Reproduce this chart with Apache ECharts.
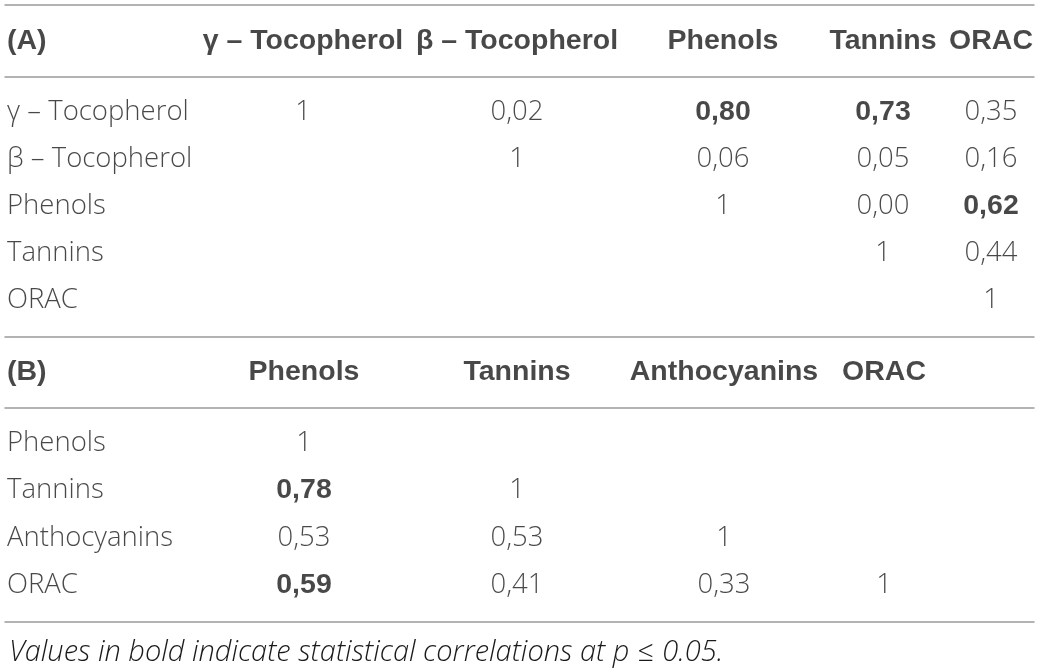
<!DOCTYPE html>
<html>
<head>
<meta charset="utf-8">
<title>Correlations</title>
<script src="https://cdn.jsdelivr.net/npm/echarts@6/dist/echarts.min.js"></script>
<style>html,body{margin:0;background:#fff;}</style>
</head>
<body>
<div id="main" style="width:1040px;height:670px;"></div>
<script type="text/javascript">
    // table (A)
    var titleA = '(A)';
    var colsA = ['γ – Tocopherol', 'β – Tocopherol', 'Phenols', 'Tannins', 'ORAC'];
    var rowsA = ['γ – Tocopherol', 'β – Tocopherol', 'Phenols', 'Tannins', 'ORAC'];
    var valsA = [
        [1, 0.02, 0.80, 0.73, 0.35],
        [null, 1, 0.06, 0.05, 0.16],
        [null, null, 1, 0.00, 0.62],
        [null, null, null, 1, 0.44],
        [null, null, null, null, 1]
    ];
    var boldA = [[0, 2], [0, 3], [2, 4]];   // [row, col] in bold

    // table (B)
    var titleB = '(B)';
    var colsB = ['Phenols', 'Tannins', 'Anthocyanins', 'ORAC'];
    var rowsB = ['Phenols', 'Tannins', 'Anthocyanins', 'ORAC'];
    var valsB = [
        [1],
        [0.78, 1],
        [0.53, 0.53, 1],
        [0.59, 0.41, 0.33, 1]
    ];
    var boldB = [[1, 0], [3, 0]];

    var note = 'Values in bold indicate statistical correlations at p \u2264 0.05.';

    // layout (x axis runs in page pixels, 5..1034)
    var colXA = [303, 517, 723, 883, 991];
    var colXB = [304, 517, 724, 884];
    var labelX = 7;
    var padTop = 0.74, padBottom = 0.77;

    var ink = '#1a1a1a';
    var bodyFont = '"Open Sans", sans-serif';
    var headFont = '"Liberation Sans", Arial, sans-serif';
    var bodySize = 27.5, headSize = 28.5;

    function fmt(v) {
        return v === 1 ? '1' : v.toFixed(2).replace('.', ',');
    }
    function isBold(list, i, j) {
        return list.some(function (p) { return p[0] === i && p[1] === j; });
    }

    function headerData(title, cols, colX) {
        var out = [{value: [labelX, 0], name: title, label: {align: 'left'}}];
        cols.forEach(function (c, j) {
            out.push({value: [colX[j], 0], name: c});
        });
        return out;
    }
    function bodyData(rows, vals, bold, colX) {
        var out = [];
        rows.forEach(function (r, i) {
            out.push({value: [labelX, i], name: r, label: {align: 'left'}});
            vals[i].forEach(function (v, j) {
                if (v === null || v === undefined) return;
                var b = isBold(bold, i, j);
                out.push({
                    value: [colX[j], i],
                    name: fmt(v),
                    label: b ? {fontWeight: 'bold', fontFamily: headFont, fontSize: headSize} : {}
                });
            });
        });
        return out;
    }

    function cellSeries(gi, xi, data, head) {
        return {
            type: 'scatter',
            xAxisIndex: xi,
            yAxisIndex: gi,
            symbolSize: 1,
            itemStyle: {color: 'rgba(0,0,0,0)'},
            silent: true,
            data: data,
            label: {
                show: true,
                position: 'inside',
                formatter: '{b}',
                color: ink,
                fontSize: head ? headSize : bodySize,
                fontFamily: head ? headFont : bodyFont,
                fontWeight: head ? 'bold' : 300,
                verticalAlign: 'middle'
            }
        };
    }

    var ruleX = function (gi, pos) {
        return {
            type: 'value', gridIndex: gi, position: pos, min: 5, max: 1034,
            axisLine: {show: true, onZero: false, lineStyle: {color: '#9b9b9b', width: 1.5}},
            axisTick: {show: false}, axisLabel: {show: false}, splitLine: {show: false}
        };
    };
    var rowY = function (gi, n, header) {
        return {
            type: 'value', gridIndex: gi, inverse: true, show: false,
            min: header ? -0.5 : -padTop,
            max: header ? 0.5 : n - 1 + padBottom
        };
    };

    var myChart = echarts.init(document.getElementById('main'));
    myChart.setOption({
        animation: false,
        backgroundColor: '#fff',
        title: {
            text: note, left: 4, top: 633,
            textStyle: {color: ink, fontSize: 29, fontStyle: 'italic', fontWeight: 300, fontFamily: bodyFont}
        },
        grid: [
            {left: 5, right: 6, top: 5, height: 72},
            {left: 5, right: 6, top: 77, height: 260},
            {left: 5, right: 6, top: 337, height: 71},
            {left: 5, right: 6, top: 408, height: 214}
        ],
        xAxis: [ruleX(0, 'top'), ruleX(1, 'top'), ruleX(2, 'top'), ruleX(3, 'top'), ruleX(3, 'bottom')],
        yAxis: [rowY(0, 1, true), rowY(1, rowsA.length), rowY(2, 1, true), rowY(3, rowsB.length)],
        series: [
            cellSeries(0, 0, headerData(titleA, colsA, colXA), true),
            cellSeries(1, 1, bodyData(rowsA, valsA, boldA, colXA), false),
            cellSeries(2, 2, headerData(titleB, colsB, colXB), true),
            cellSeries(3, 3, bodyData(rowsB, valsB, boldB, colXB), false)
        ]
    });
</script>
</body>
</html>
